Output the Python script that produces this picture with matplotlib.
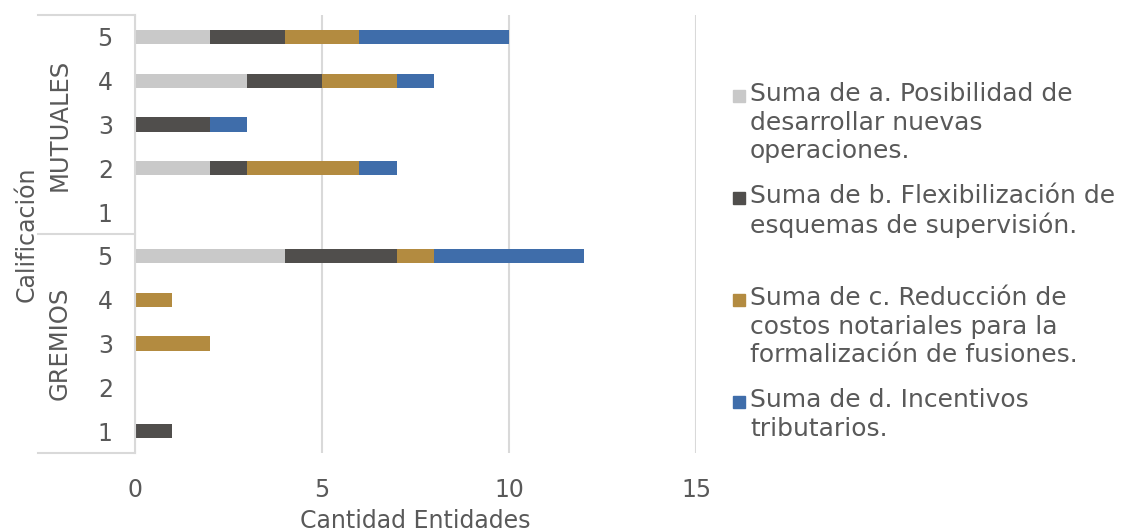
import matplotlib.pyplot as plt
from matplotlib.patches import Rectangle
import numpy as np

# rows from top to bottom: MUTUALES 5..1, GREMIOS 5..1
groups = ["MUTUALES", "GREMIOS"]
ratings = ["5", "4", "3", "2", "1", "5", "4", "3", "2", "1"]
serie_a = [2, 3, 0, 2, 0, 4, 0, 0, 0, 0]
serie_b = [2, 2, 2, 1, 0, 3, 0, 0, 0, 1]
serie_c = [2, 2, 0, 3, 0, 1, 1, 2, 0, 0]
serie_d = [4, 1, 1, 1, 0, 4, 0, 0, 0, 0]
labels = [
    "Suma de a. Posibilidad de\ndesarrollar nuevas\noperaciones.",
    "Suma de b. Flexibilización de\nesquemas de supervisión.",
    "Suma de c. Reducción de\ncostos notariales para la\nformalización de fusiones.",
    "Suma de d. Incentivos\ntributarios.",
]
colors = ["#C9C9C9", "#504E4C", "#B38B40", "#3F6DAA"]
TXT = "#595959"
GRID = "#D9D9D9"

plt.rcParams["font.family"] = "DejaVu Sans"
fig = plt.figure(figsize=(11.22, 5.31), dpi=100)
W, H = 1122, 531
ax = fig.add_axes([135 / W, 1 - 453 / H, (696 - 135) / W, (453 - 15) / H])

y = np.arange(len(ratings))
left = np.zeros(len(ratings))
for vals, col in zip([serie_a, serie_b, serie_c, serie_d], colors):
    ax.barh(y, vals, left=left, height=0.32, color=col)
    left += np.array(vals)

ax.set_ylim(len(ratings) - 0.5, -0.5)
ax.set_xlim(0, 15)
ax.set_xticks([0, 5, 10, 15])
ax.set_yticks(y)
ax.set_yticklabels(ratings)
ax.tick_params(axis="both", length=0, labelsize=17, labelcolor=TXT)
ax.tick_params(axis="y", pad=16)
ax.tick_params(axis="x", pad=18)
ax.grid(axis="x", color=GRID, linewidth=1.5)
ax.set_axisbelow(True)
for s in ["top", "right", "bottom"]:
    ax.spines[s].set_visible(False)
ax.spines["left"].set_color(GRID)
ax.spines["left"].set_linewidth(1.5)

# group separators
x0 = (38 - 135) / (696 - 135)
for yy in [1.0, 0.5, 0.0]:
    ax.plot([x0, 0], [yy, yy], transform=ax.transAxes, color=GRID,
            linewidth=1.5, clip_on=False)
for g, yy in zip(groups, [0.75, 0.25]):
    ax.text((60 - 135) / 561, yy, g, transform=ax.transAxes, rotation=90,
            ha="center", va="center", fontsize=17.5, color=TXT)
ax.text((27 - 135) / 561, 0.5, "Calificación", transform=ax.transAxes,
        rotation=90, ha="center", va="center", fontsize=17, color=TXT)
ax.set_xlabel("Cantidad Entidades", fontsize=17, color=TXT, labelpad=5)

# legend, equal spacing like the original
for i, (lab, col) in enumerate(zip(labels, colors)):
    cy = 96 + i * 102
    fig.patches.append(Rectangle((733 / W, 1 - (cy + 6) / H), 12 / W, 12 / H,
                                 transform=fig.transFigure, color=col))
    fig.text(750 / W, 1 - (cy - 14) / H, lab, ha="left", va="top",
             fontsize=18, color=TXT, linespacing=1.24)

fig.savefig("out.png", dpi=100)
